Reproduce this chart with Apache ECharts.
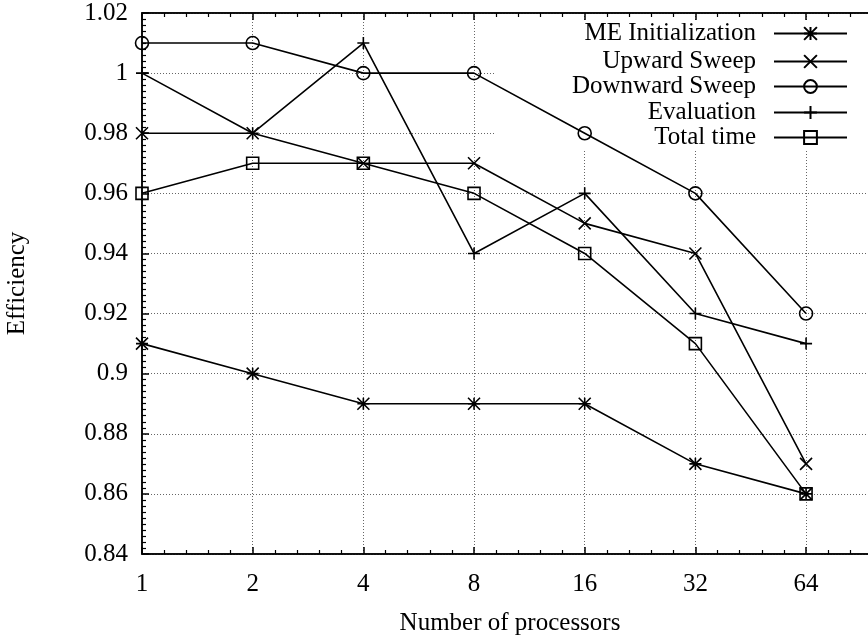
<!DOCTYPE html>
<html>
<head>
    <meta charset="utf-8">
    <title>Efficiency</title>
    <script src="https://cdn.jsdelivr.net/npm/echarts@6/dist/echarts.min.js"></script>
    <style>
        html, body { margin: 0; padding: 0; background: #fff; }
        #chart1 { width: 868px; height: 635px; }
    </style>
</head>
<body>
<div id="chart1"></div>
<script type="text/javascript">
    // processors (x axis is log2)
    var procs = [1, 2, 4, 8, 16, 32, 64];
    var yTicks = [0.84, 0.86, 0.88, 0.9, 0.92, 0.94, 0.96, 0.98, 1, 1.02];

    var seriesNames = ['ME Initialization', 'Upward Sweep', 'Downward Sweep', 'Evaluation', 'Total time'];
    var meInit = [0.91, 0.90, 0.89, 0.89, 0.89, 0.87, 0.86];
    var upward = [0.98, 0.98, 0.97, 0.97, 0.95, 0.94, 0.87];
    var downward = [1.01, 1.01, 1.00, 1.00, 0.98, 0.96, 0.92];
    var evaluation = [1.00, 0.98, 1.01, 0.94, 0.96, 0.92, 0.91];
    var totalTime = [0.96, 0.97, 0.97, 0.96, 0.94, 0.91, 0.86];

    var font = '"Liberation Serif", "DejaVu Serif", serif';

    // gnuplot style point types
    var symbols = [
        'path://M5,0L5,10M0,5L10,5M0,0L10,10M10,0L0,10',
        'path://M0,0L10,10M10,0L0,10',
        'circle',
        'path://M5,0L5,10M0,5L10,5',
        'rect'
    ];
    var sizes = [12, 12, 13, 12, 12];
    var values = [meInit, upward, downward, evaluation, totalTime];

    function toPoints(arr) {
        return arr.map(function (v, i) { return [Math.log2(procs[i]), v]; });
    }

    var series = seriesNames.map(function (name, k) {
        return {
            name: name,
            type: 'line',
            data: toPoints(values[k]),
            symbol: symbols[k],
            symbolSize: sizes[k],
            showAllSymbol: true,
            lineStyle: { color: '#000', width: 1.6 },
            itemStyle: { color: 'transparent', borderColor: '#000', borderWidth: 1.6 },
            emphasis: { disabled: true },
            animation: false
        };
    });

    // one legend per row so the text is right aligned like gnuplot's key
    var legendTops = [33, 61, 86, 112, 137];
    var legends = seriesNames.map(function (name, k) {
        return {
            data: [name],
            right: 20,
            top: legendTops[k] - 12,
            align: 'right',
            itemWidth: 73,
            itemHeight: 16,
            padding: 0,
            selectedMode: false,
            textStyle: { fontFamily: font, fontSize: 25, color: '#000', padding: [0, 13, 0, 0] }
        };
    });

    var xMax = 6.65;
    var axisX = {
        type: 'value',
        min: 0,
        max: xMax,
        interval: 1,
        axisLine: { show: true, lineStyle: { color: '#000', width: 1.5 } },
        axisTick: { show: true, inside: true, length: 7, lineStyle: { color: '#000', width: 1.5 } },
        minorTick: { show: true, splitNumber: 5, length: 4, lineStyle: { color: '#000', width: 1.2 } }
    };

    var myChart1 = echarts.init(document.getElementById('chart1'));
    myChart1.setOption({
        backgroundColor: '#fff',
        animation: false,
        grid: {
            left: 142, top: 13, width: 736, height: 541,
            outerBoundsMode: 'none', containLabel: false,
            show: true, borderColor: '#000', borderWidth: 1.5
        },
        legend: legends,
        graphic: [{
            type: 'rect',
            z: 1,
            shape: { x: 495, y: 20, width: 372, height: 130 },
            style: { fill: '#fff' },
            silent: true
        }],
        xAxis: [
            Object.assign({}, axisX, {
                position: 'bottom',
                name: 'Number of processors',
                nameLocation: 'middle',
                nameGap: 57,
                nameTextStyle: { fontFamily: font, fontSize: 25, color: '#000' },
                axisLabel: {
                    margin: 18,
                    fontFamily: font, fontSize: 25, color: '#000',
                    formatter: function (v) { return procs[v] !== undefined ? String(procs[v]) : ''; }
                },
                splitLine: { show: true, lineStyle: { color: '#666', width: 1, type: [1, 2] } }
            }),
            Object.assign({}, axisX, {
                position: 'top',
                axisLabel: { show: false },
                splitLine: { show: false }
            })
        ],
        yAxis: {
            type: 'value',
            min: yTicks[0],
            max: yTicks[yTicks.length - 1],
            interval: 0.02,
            name: 'Efficiency',
            nameLocation: 'middle',
            nameGap: 112,
            nameRotate: 90,
            nameTextStyle: { fontFamily: font, fontSize: 25, color: '#000' },
            axisLine: { show: true, lineStyle: { color: '#000', width: 1.5 } },
            axisTick: { show: true, inside: true, length: 7, lineStyle: { color: '#000', width: 1.5 } },
            minorTick: { show: true, splitNumber: 10, length: 4, lineStyle: { color: '#000', width: 1.2 } },
            axisLabel: { margin: 14, fontFamily: font, fontSize: 25, color: '#000' },
            splitLine: { show: true, lineStyle: { color: '#666', width: 1, type: [1, 2] } }
        },
        series: series
    });
</script>
</body>
</html>
